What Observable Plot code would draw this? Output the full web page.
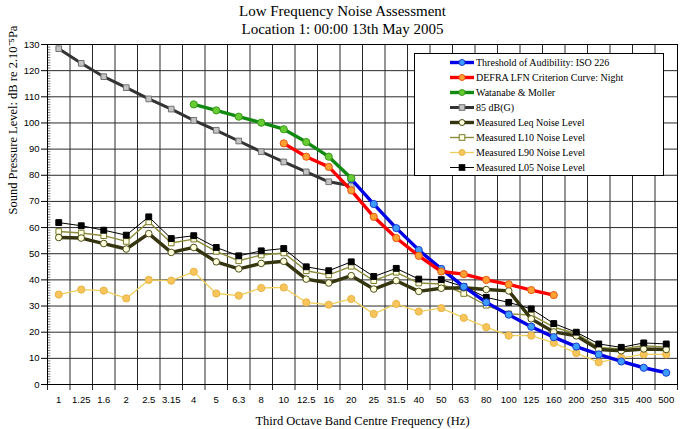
<!DOCTYPE html>
<html>
<head>
<meta charset="utf-8">
<script src="https://cdn.jsdelivr.net/npm/d3@7"></script>
<script src="https://cdn.jsdelivr.net/npm/@observablehq/plot@0.6"></script>
<style>
  body { margin: 0; background: #fff; }
  #wrap { position: relative; width: 685px; height: 429px; overflow: hidden; }
  #title { width: 685px; height: 40px; box-sizing: border-box; padding-top: 2px; text-align: center;
           font-family: "Liberation Serif", serif; font-size: 15px; line-height: 18px; color: #000; }
  #legend { position: absolute; left: 414px; top: 53px; width: 250px; height: 123px; box-sizing: border-box;
            border: 1px solid #000; background: #fff; padding-top: 1px;
            font-family: "Liberation Serif", serif; font-size: 10px; color: #000; }
  .row { height: 15px; display: flex; align-items: center; padding-left: 34px; white-space: nowrap; }
  .row svg { flex: none; margin-right: 1px; }
</style>
</head>
<body>
<div id="wrap">
  <div id="title">Low Frequency Noise Assessment<br>Location 1: 00:00 13th May 2005</div>
  <div id="chart"></div>
  <div id="legend"></div>
</div>
<script>
// ---- Data ----
const freqs = ["1","1.25","1.6","2","2.5","3.15","4","5","6.3","8","10","12.5","16","20","25","31.5","40","50","63","80","100","125","160","200","250","315","400","500"];

// Threshold of Audibility: ISO 226 (20 Hz .. 500 Hz)
const isoStart = 13;
const isoValues = [78.5, 69.0, 59.8, 51.4, 44.2, 37.4, 31.4, 26.7, 22.1, 18.1, 14.5, 11.5, 8.8, 6.4, 4.5];

// DEFRA LFN Criterion Curve: Night (10 Hz .. 160 Hz)
const defraStart = 10;
const defraValues = [92.2, 87.1, 83.2, 74.2, 64.1, 56.0, 49.2, 43.2, 42.2, 40.0, 38.3, 36.1, 34.2];

// Watanabe & Moller (4 Hz .. 20 Hz)
const watanabeStart = 6;
const watanabeValues = [107.1, 104.8, 102.4, 100.1, 97.6, 92.7, 87.1, 78.9];

// 85 dB(G) (1 Hz .. 20 Hz)
const g85Start = 0;
const g85Values = [128.4, 122.8, 117.7, 113.5, 109.2, 105.3, 101.0, 97.2, 93.1, 89.0, 85.1, 81.3, 77.5, 76.0];

// Measured levels (1 Hz .. 500 Hz)
const leqValues = [56.2, 56.0, 53.9, 51.8, 57.7, 50.5, 52.4, 46.9, 44.2, 46.3, 47.1, 40.3, 38.8, 41.6, 36.5, 39.7, 35.6, 36.8, 37.0, 36.3, 35.8, 25.1, 20.1, 18.6, 13.4, 12.9, 13.6, 13.4];
const l10Values = [58.5, 57.9, 56.9, 54.7, 62.2, 54.1, 55.6, 50.9, 47.3, 49.5, 50.3, 43.5, 41.9, 45.2, 39.7, 42.9, 38.8, 38.4, 34.8, 30.3, 27.0, 26.6, 21.9, 19.5, 14.2, 13.6, 14.8, 14.3];
const l90Values = [34.4, 36.3, 35.9, 32.9, 40.0, 39.7, 43.1, 34.8, 34.0, 36.9, 37.1, 31.4, 30.5, 32.7, 27.0, 30.8, 27.9, 29.2, 25.5, 21.9, 18.7, 18.7, 15.9, 12.0, 8.5, 10.2, 11.5, 11.5];
const l05Values = [61.9, 60.7, 59.0, 57.1, 64.1, 55.8, 56.9, 52.4, 49.2, 51.1, 52.0, 45.0, 43.5, 46.9, 41.3, 44.4, 40.3, 40.1, 37.4, 33.3, 31.4, 28.9, 23.3, 20.0, 15.5, 14.2, 15.9, 15.5];

const yTicks = [0, 10, 20, 30, 40, 50, 60, 70, 80, 90, 100, 110, 120, 130];
const xTitle = "Third Octave Band Centre Frequency (Hz)";
const yTitle = "Sound Pressure Level: dB re 2.10\u207B\u2075Pa";

// ---- Build ----
const rows = (start, vals) => vals.map((v, k) => ({i: start + k, v}));

const series = [
  {name: "Measured L90 Noise Level", data: rows(0, l90Values), line: "#f0cf5a", w: 1.3, fill: "#f7c55a", stroke: "#e8b445", symbol: "circle", r: 3.6},
  {name: "Measured L10 Noise Level", data: rows(0, l10Values), line: "#8c8c3a", w: 1.4, fill: "#ffffe6", stroke: "#7a7a2a", symbol: "square", r: 3.2},
  {name: "Measured Leq Noise Level", data: rows(0, leqValues), line: "#35350f", w: 3.4, fill: "#ffffdc", stroke: "#4a4a18", symbol: "circle", r: 3.3},
  {name: "Measured L05 Noise Level", data: rows(0, l05Values), line: "#000000", w: 1, fill: "#000000", stroke: "#000000", symbol: "square", r: 3.3},
  {name: "85 dB(G)", data: rows(g85Start, g85Values), line: "#333333", w: 3, fill: "#c4c4c4", stroke: "#707070", symbol: "square", r: 3.2},
  {name: "Threshold of Audibility: ISO 226", data: rows(isoStart, isoValues), line: "#0000e6", w: 3.4, fill: "#3d9cff", stroke: "#1a3fd0", symbol: "circle", r: 3.6},
  {name: "DEFRA LFN Criterion Curve: Night", data: rows(defraStart, defraValues), line: "#ff0000", w: 3.4, fill: "#ffa033", stroke: "#e85a10", symbol: "circle", r: 3.6},
  {name: "Watanabe & Moller", data: rows(watanabeStart, watanabeValues), line: "#118a11", w: 3.4, fill: "#66cc33", stroke: "#3a9a1a", symbol: "circle", r: 3.6}
];

const idx = d3.range(freqs.length);
const bounds = d3.range(freqs.length + 1).map(k => k - 0.5);
const minor = d3.range(0, 131, 1);

const marks = [
  Plot.ruleY(yTicks, {stroke: "#2a2a2a", strokeWidth: 1}),
  Plot.ruleX(bounds, {stroke: "#2a2a2a", strokeWidth: 1, insetBottom: -6}),
  Plot.ruleY(minor, {x1: bounds[0], x2: bounds[0] + 0.15, stroke: "#444", strokeWidth: 0.7}),
];
for (const s of series) {
  marks.push(Plot.line(s.data, {x: "i", y: "v", stroke: s.line, strokeWidth: s.w, strokeLinejoin: "round"}));
  marks.push(Plot.dot(s.data, {x: "i", y: "v", r: s.r, symbol: s.symbol, fill: s.fill, stroke: s.stroke, strokeWidth: 1}));
}
marks.push(Plot.frame({stroke: "#000", strokeWidth: 1}));
marks.push(Plot.text([yTitle], {frameAnchor: "left", dx: -35, rotate: -90, fontFamily: "Liberation Serif", fontSize: 12.5, fill: "#000"}));
marks.push(Plot.text([xTitle], {frameAnchor: "bottom", dy: 40, fontFamily: "Liberation Serif", fontSize: 12.5, fill: "#000"}));

const chart = Plot.plot({
  width: 685,
  height: 389,
  marginTop: 4,
  marginBottom: 45,
  marginLeft: 47,
  marginRight: 8,
  style: {fontFamily: "Liberation Sans", fontSize: "9.5px", background: "white", color: "#000", overflow: "visible"},
  x: {type: "linear", domain: [bounds[0], bounds[bounds.length - 1]], ticks: idx, tickFormat: i => freqs[i], tickSize: 0, tickPadding: 12, label: null},
  y: {domain: [0, 130], ticks: yTicks, tickSize: 6, tickPadding: 2, label: null},
  marks
});
document.getElementById("chart").appendChild(chart);

// ---- Legend (HTML overlay, in the chart's legend order) ----
const legendOrder = [
  "Threshold of Audibility: ISO 226",
  "DEFRA LFN Criterion Curve: Night",
  "Watanabe & Moller",
  "85 dB(G)",
  "Measured Leq Noise Level",
  "Measured L10 Noise Level",
  "Measured L90 Noise Level",
  "Measured L05 Noise Level"
];
const legend = document.getElementById("legend");
const NS = "http://www.w3.org/2000/svg";
for (const name of legendOrder) {
  const s = series.find(d => d.name === name);
  const row = document.createElement("div");
  row.className = "row";
  const svg = document.createElementNS(NS, "svg");
  svg.setAttribute("width", 26); svg.setAttribute("height", 15);
  const ln = document.createElementNS(NS, "line");
  ln.setAttribute("x1", 1); ln.setAttribute("x2", 25); ln.setAttribute("y1", 7.5); ln.setAttribute("y2", 7.5);
  ln.setAttribute("stroke", s.line); ln.setAttribute("stroke-width", s.w);
  svg.appendChild(ln);
  let mk;
  if (s.symbol === "square") {
    mk = document.createElementNS(NS, "rect");
    mk.setAttribute("x", 13 - 2.8); mk.setAttribute("y", 7.5 - 2.8); mk.setAttribute("width", 5.6); mk.setAttribute("height", 5.6);
  } else {
    mk = document.createElementNS(NS, "circle");
    mk.setAttribute("cx", 13); mk.setAttribute("cy", 7.5); mk.setAttribute("r", 3);
  }
  mk.setAttribute("fill", s.fill); mk.setAttribute("stroke", s.stroke); mk.setAttribute("stroke-width", 1);
  svg.appendChild(mk);
  row.appendChild(svg);
  const t = document.createElement("span");
  t.textContent = name;
  row.appendChild(t);
  legend.appendChild(row);
}
</script>
</body>
</html>
